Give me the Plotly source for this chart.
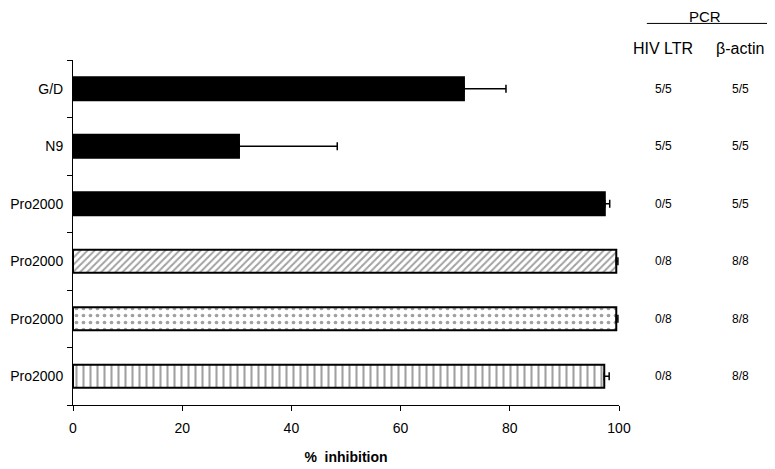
import plotly.graph_objects as go

# bar data, top to bottom
labels = ["G/D", "N9", "Pro2000", "Pro2000", "Pro2000", "Pro2000"]
inhibition = [71.6, 30.4, 97.4, 99.5, 99.5, 97.3]
errors = [7.7, 18.0, 0.9, 0.3, 0.3, 0.9]
patterns = ["", "", "", "/", ".", "|"]
fills = ["black", "black", "black", "white", "white", "white"]

# PCR results shown at the right
hiv_ltr = ["5/5", "5/5", "0/5", "0/8", "0/8", "0/8"]
beta_actin = ["5/5", "5/5", "5/5", "8/8", "8/8", "8/8"]

x_ticks = [0, 20, 40, 60, 80, 100]

rows = list(range(len(labels)))

fig = go.Figure(go.Bar(
    x=inhibition,
    y=rows,
    orientation="h",
    width=0.4,
    marker=dict(
        color=fills,
        line=dict(color="black", width=2),
        pattern=dict(shape=patterns, fgcolor="black", bgcolor="white",
                     size=[6, 6, 6, 5, 7, 7], solidity=[0.3, 0.3, 0.3, 0.4, 0.22, 0.3],
                     fillmode="overlay"),
    ),
    error_x=dict(type="data", array=errors, arrayminus=[0] * len(errors),
                 symmetric=False, color="black", thickness=1.5, width=4),
    showlegend=False,
))

font = "Arial, Liberation Sans, sans-serif"

# page body adds an 8px offset, so the figure is sized a little smaller
fig.update_layout(
    width=767, height=461,
    margin=dict(l=65, r=156, t=52, b=64, autoexpand=False),
    plot_bgcolor="white", paper_bgcolor="white",
    font=dict(family=font, color="black"),
    bargap=0.6,
)

fig.update_xaxes(
    range=[0, 100], tickvals=x_ticks, ticks="outside", ticklen=5,
    tickcolor="black", showline=True, linecolor="black", linewidth=1,
    showgrid=False, zeroline=False, tickfont=dict(size=14), automargin=False,
    ticklabelstandoff=5,
    title=dict(text="<b>%  inhibition</b>", font=dict(size=14), standoff=17),
)

fig.update_yaxes(
    range=[len(labels) - 0.5, -0.5], tickvals=rows, ticktext=labels,
    ticks="", showline=True, linecolor="black", linewidth=1, automargin=False,
    showgrid=False, zeroline=False, tickfont=dict(size=14), ticklabelstandoff=6,
    minor=dict(tickvals=[r - 0.5 for r in rows] + [len(rows) - 0.5],
               ticks="outside", ticklen=5, tickcolor="black", showgrid=False),
)

for r in rows:
    fig.add_annotation(x=1.081, y=r, xref="paper", yref="y", text=hiv_ltr[r],
                       showarrow=False, font=dict(size=12),
                       xanchor="center", yanchor="middle")
    fig.add_annotation(x=1.222, y=r, xref="paper", yref="y", text=beta_actin[r],
                       showarrow=False, font=dict(size=12),
                       xanchor="center", yanchor="middle")

for x, txt in [(1.081, "HIV LTR"), (1.222, "β-actin")]:
    fig.add_annotation(x=x, y=1.032, xref="paper", yref="paper", text=txt,
                       showarrow=False, font=dict(size=16),
                       xanchor="center", yanchor="middle")
fig.add_annotation(x=1.157, y=1.125, xref="paper", yref="paper", text="PCR",
                   showarrow=False, font=dict(size=15),
                   xanchor="center", yanchor="middle")
fig.add_shape(type="line", xref="paper", yref="paper", x0=1.051, x1=1.273,
              y0=1.106, y1=1.106, line=dict(color="black", width=1))

fig.write_html("out.html")
